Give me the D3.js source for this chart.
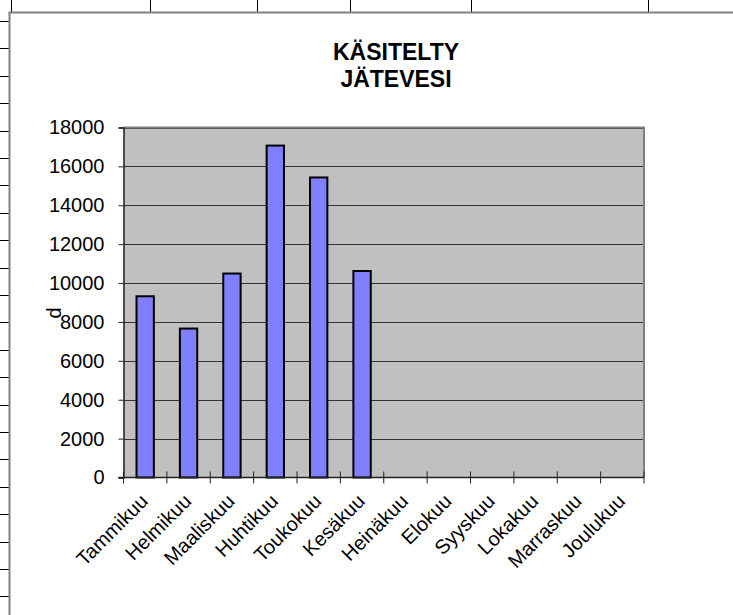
<!DOCTYPE html>
<html><head><meta charset="utf-8">
<script src="https://cdn.jsdelivr.net/npm/d3@7"></script>
<style>
html,body{margin:0;padding:0;background:#fff;}
svg{display:block;font-family:"Liberation Sans",Arial,sans-serif;}
</style></head>
<body>
<script>
const months = ["Tammikuu","Helmikuu","Maaliskuu","Huhtikuu","Toukokuu","Kesäkuu","Heinäkuu","Elokuu","Syyskuu","Lokakuu","Marraskuu","Joulukuu"];
const values = [9320, 7660, 10490, 17070, 15430, 10620, null, null, null, null, null, null];
const yTicks = [0,2000,4000,6000,8000,10000,12000,14000,16000,18000];
const titleLines = ["KÄSITELTY","JÄTEVESI"];
const yLabel = "d";
const sheetCols = [11,150,257,350,471,648];

const W=733,H=615;
const svg=d3.select("body").append("svg").attr("width",W).attr("height",H);

// spreadsheet background lines
const chartX=9.5, chartY=12.5;
svg.selectAll("line.col").data(sheetCols).join("line")
  .attr("x1",d=>d+0.5).attr("x2",d=>d+0.5).attr("y1",0).attr("y2",chartY)
  .attr("stroke","#000").attr("stroke-width",1);
const rows=d3.range(0,22).map(i=>21+27.4*i).filter(v=>v<H);
svg.selectAll("line.row").data(rows).join("line")
  .attr("x1",0).attr("x2",chartX).attr("y1",d=>Math.round(d)+0.5).attr("y2",d=>Math.round(d)+0.5)
  .attr("stroke","#000").attr("stroke-width",1);
// chart area
svg.append("rect").attr("x",chartX).attr("y",chartY).attr("width",W+20).attr("height",H+20)
  .attr("fill","#fff").attr("stroke","#808080").attr("stroke-width",2);

const pl=123.5, pr=644, pt=127.5, pb=477.5;
const x=d3.scaleBand().domain(months).range([pl,pr]).padding(0);
const y=d3.scaleLinear().domain([0,18000]).range([pb,pt]);

// plot bg
svg.append("rect").attr("x",pl).attr("y",pt).attr("width",pr-pl).attr("height",pb-pt)
  .attr("fill","#C0C0C0");
// gridlines
svg.selectAll("line.grid").data(yTicks.filter(d=>d>0)).join("line")
  .attr("x1",pl).attr("x2",pr).attr("y1",d=>Math.round(y(d))+0.5).attr("y2",d=>Math.round(y(d))+0.5)
  .attr("stroke","#333").attr("stroke-width",1);
// plot border (top/right)
svg.append("path").attr("d",`M${pl},${pt}H${pr}V${pb}`).attr("fill","none")
  .attr("stroke","#808080").attr("stroke-width",2);

// bars
const bw=x.step()/2.5;
svg.selectAll("rect.bar").data(months.map((m,i)=>({m,v:values[i]})).filter(d=>d.v!=null)).join("rect")
  .attr("x",d=>x(d.m)+x.bandwidth()/2-bw/2).attr("width",bw)
  .attr("y",d=>y(d.v)).attr("height",d=>y(0)-y(d.v))
  .attr("fill","#8080FF").attr("stroke","#000").attr("stroke-width",2);

// y axis
const ya=svg.append("g").attr("transform",`translate(${pl},0)`)
  .call(d3.axisLeft(y).tickValues(yTicks).tickSize(5).tickPadding(14).tickFormat(d3.format("d")));
ya.select(".domain").attr("stroke","#222").attr("stroke-width",1.5);
ya.selectAll(".tick line").attr("stroke","#222");
ya.selectAll("text").attr("font-size",20).attr("fill","#000").attr("font-family","Liberation Sans, Arial, sans-serif");

// x axis
const xa=svg.append("g").attr("transform",`translate(0,${pb})`);
xa.append("line").attr("x1",pl-5).attr("x2",pr).attr("y1",0).attr("y2",0).attr("stroke","#222").attr("stroke-width",1.5);
const bounds=months.map(m=>x(m)).concat([pr]);
xa.selectAll("line.t").data(bounds).join("line")
  .attr("x1",d=>d).attr("x2",d=>d).attr("y1",-6).attr("y2",6).attr("stroke","#222").attr("stroke-width",1);
xa.selectAll("text").data(months).join("text")
  .attr("transform",d=>`translate(${x(d)+x.bandwidth()/2+4},25) rotate(-45)`)
  .attr("text-anchor","end").attr("font-size",20).attr("fill","#000").text(d=>d);

// y label
svg.append("text").attr("transform","translate(61,313) rotate(-90)").attr("text-anchor","middle")
  .attr("font-size",20).text(yLabel);

// title
svg.append("text").attr("text-anchor","middle").attr("font-size",23).attr("font-weight","bold")
  .selectAll("tspan").data(titleLines).join("tspan")
  .attr("x",396).attr("y",(d,i)=>60+i*27).text(d=>d);
</script>
</body></html>
